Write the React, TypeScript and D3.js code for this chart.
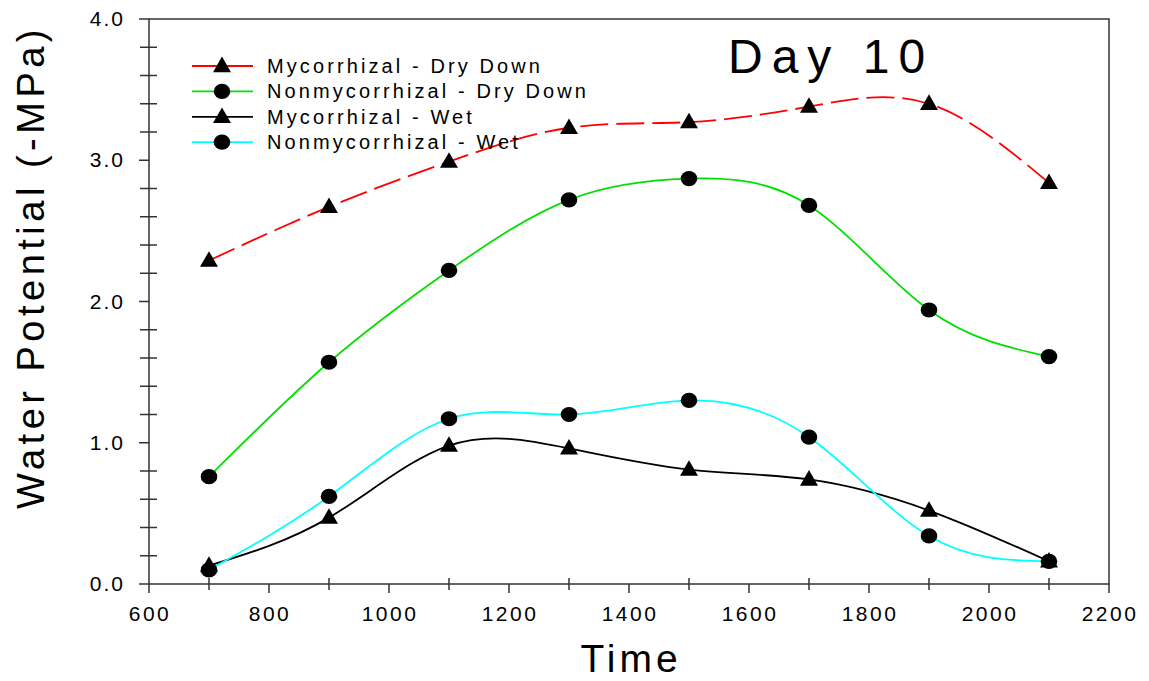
import React, { useEffect, useRef } from "react";
import * as d3 from "d3";

const times = [700, 900, 1100, 1300, 1500, 1700, 1900, 2100];

const mycDry = [2.29, 2.67, 2.99, 3.23, 3.27, 3.38, 3.4, 2.84];
const nonmycDry = [0.76, 1.57, 2.22, 2.72, 2.87, 2.68, 1.94, 1.61];
const mycWet = [0.13, 0.47, 0.98, 0.96, 0.81, 0.74, 0.52, 0.16];
const nonmycWet = [0.1, 0.62, 1.17, 1.2, 1.3, 1.04, 0.34, 0.16];

const seriesNames = [
  "Mycorrhizal - Dry Down",
  "Nonmycorrhizal - Dry Down",
  "Mycorrhizal - Wet",
  "Nonmycorrhizal - Wet",
];
const seriesColors = ["#ff0000", "#00e000", "#000000", "#00ffff"];
const seriesMarkers = ["triangle", "circle", "triangle", "circle"];
const seriesDash = ["28,8", null, null, null];

const xTicks = [600, 800, 1000, 1200, 1400, 1600, 1800, 2000, 2200];
const yTicks = [0, 1, 2, 3, 4];

const FONT = "'Liberation Sans', Arial, sans-serif";

function drawChart(element) {
  d3.select(element).selectAll("*").remove();

  const width = 1149;
  const height = 681;
  const margin = { top: 19, right: 40, bottom: 97, left: 149 };
  const w = width - margin.left - margin.right;
  const h = height - margin.top - margin.bottom;

  const x = d3.scaleLinear().domain([600, 2200]).range([0, w]);
  const y = d3.scaleLinear().domain([0, 4]).range([h, 0]);

  const svg = d3
    .select(element)
    .append("svg")
    .attr("width", width)
    .attr("height", height)
    .style("position", "absolute")
    .style("left", 0)
    .style("top", 0)
    .style("background", "#fff");

  const g = svg
    .append("g")
    .attr("transform", "translate(" + margin.left + "," + margin.top + ")");

  const axisColor = "#333";

  // frame
  g.append("rect")
    .attr("width", w)
    .attr("height", h)
    .attr("fill", "none")
    .attr("stroke", axisColor)
    .attr("stroke-width", 1.5);

  // x ticks: majors outward, minors cross the axis
  d3.range(600, 2201, 100).forEach((v) => {
    const major = v % 200 === 0;
    g.append("line")
      .attr("x1", x(v))
      .attr("x2", x(v))
      .attr("y1", major ? h : h - 6)
      .attr("y2", major ? h + 9 : h + 6)
      .attr("stroke", axisColor)
      .attr("stroke-width", 1.5);
  });
  g.selectAll(".xlab")
    .data(xTicks)
    .join("text")
    .attr("x", (d) => x(d) + 1)
    .attr("y", h + 37)
    .attr("text-anchor", "middle")
    .attr("font-family", FONT)
    .attr("font-size", 21)
    .attr("letter-spacing", 2.5)
    .text((d) => d);

  // y ticks
  d3.range(0, 20.5, 1).forEach((i) => {
    const v = i / 5;
    const major = i % 5 === 0;
    g.append("line")
      .attr("x1", major ? -10 : -9)
      .attr("x2", major ? 0 : 8)
      .attr("y1", y(v))
      .attr("y2", y(v))
      .attr("stroke", axisColor)
      .attr("stroke-width", 1.5);
  });
  g.selectAll(".ylab")
    .data(yTicks)
    .join("text")
    .attr("x", -24)
    .attr("y", (d) => y(d) + 7)
    .attr("text-anchor", "end")
    .attr("font-family", FONT)
    .attr("font-size", 21)
    .attr("letter-spacing", 2)
    .text((d) => d.toFixed(1));

  // axis titles
  svg
    .append("text")
    .attr("x", margin.left + w / 2 + 2)
    .attr("y", 672)
    .attr("text-anchor", "middle")
    .attr("font-family", FONT)
    .attr("font-size", 39)
    .attr("letter-spacing", 4)
    .text("Time");

  svg
    .append("text")
    .attr("transform", "translate(44,267) rotate(-90)")
    .attr("text-anchor", "middle")
    .attr("font-family", FONT)
    .attr("font-size", 38)
    .attr("letter-spacing", 4.5)
    .text("Water Potential (-MPa)");

  svg
    .append("text")
    .attr("x", 728)
    .attr("y", 73)
    .attr("font-family", FONT)
    .attr("font-size", 48)
    .attr("letter-spacing", 9)
    .text("Day 10");

  const allSeries = [mycDry, nonmycDry, mycWet, nonmycWet];

  const line = d3
    .line()
    .x((d) => x(d[0]))
    .y((d) => y(d[1]))
    .curve(d3.curveNatural);

  const triangle = d3.symbol().type(d3.symbolTriangle).size(140);

  function drawMarker(sel, type, cx, cy) {
    if (type === "circle") {
      sel
        .append("ellipse")
        .attr("cx", cx)
        .attr("cy", cy)
        .attr("rx", 8.3)
        .attr("ry", 7.6)
        .attr("fill", "#000");
    } else {
      sel
        .append("path")
        .attr("d", triangle())
        .attr("transform", "translate(" + cx + "," + (cy + 1) + ")")
        .attr("fill", "#000");
    }
  }

  allSeries.forEach((vals, i) => {
    const pts = times.map((t, j) => [t, vals[j]]);
    g.append("path")
      .datum(pts)
      .attr("fill", "none")
      .attr("stroke", seriesColors[i])
      .attr("stroke-width", 1.8)
      .attr("stroke-dasharray", seriesDash[i])
      .attr("d", line);
  });

  allSeries.forEach((vals, i) => {
    times.forEach((t, j) => {
      drawMarker(g, seriesMarkers[i], x(t), y(vals[j]));
    });
  });

  // legend
  const legend = svg.append("g");
  seriesNames.forEach((name, i) => {
    const ly = 66 + i * 25.4;
    legend
      .append("line")
      .attr("x1", 192)
      .attr("x2", 253)
      .attr("y1", ly)
      .attr("y2", ly)
      .attr("stroke", seriesColors[i])
      .attr("stroke-width", 1.8);
    drawMarker(legend, seriesMarkers[i], 222, ly);
    legend
      .append("text")
      .attr("x", 267)
      .attr("y", ly + 7)
      .attr("font-family", FONT)
      .attr("font-size", 20)
      .attr("letter-spacing", 3.1)
      .text(name);
  });
}

export default function App() {
  const ref = useRef(null);
  useEffect(() => {
    drawChart(ref.current);
  }, []);
  return <div ref={ref} />;
}
